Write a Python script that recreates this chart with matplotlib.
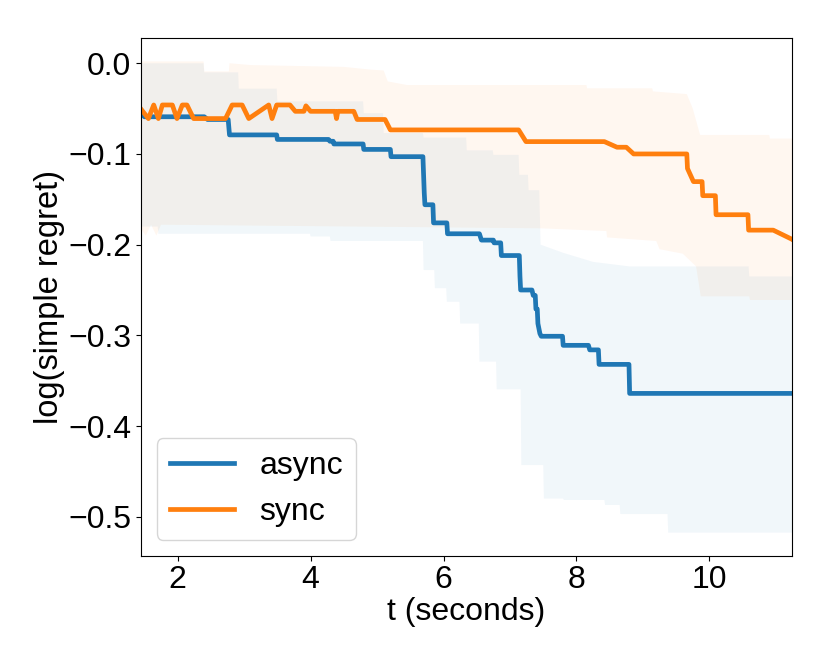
import numpy as np
import matplotlib
matplotlib.use("Agg")
import matplotlib.pyplot as plt

plt.rcParams['font.family'] = ['Liberation Sans', 'DejaVu Sans']

# mean curves (vertices)
async_t = [1.40, 1.50, 2.40, 2.45, 2.76, 2.78, 3.49, 3.50, 4.27, 4.29, 4.34, 4.35,
           4.79, 4.80, 5.20, 5.21, 5.69, 5.71, 5.72, 5.84, 5.85, 6.05, 6.06, 6.54,
           6.57, 6.75, 6.76, 6.86, 6.87, 7.14, 7.15, 7.16, 7.33, 7.35, 7.38, 7.39,
           7.41, 7.42, 7.45, 7.47, 7.79, 7.80, 8.18, 8.20, 8.33, 8.34, 8.79, 8.80, 11.30]
async_y = [-0.052, -0.059, -0.059, -0.062, -0.062, -0.079, -0.079, -0.084, -0.084, -0.086,
           -0.086, -0.089, -0.089, -0.095, -0.095, -0.103, -0.103, -0.143, -0.156, -0.156,
           -0.176, -0.176, -0.188, -0.188, -0.195, -0.195, -0.198, -0.198, -0.212, -0.212,
           -0.235, -0.250, -0.250, -0.256, -0.256, -0.271, -0.271, -0.287, -0.298, -0.301,
           -0.301, -0.311, -0.311, -0.316, -0.316, -0.332, -0.332, -0.364, -0.364]

sync_t = [1.40, 1.56, 1.64, 1.71, 1.77, 1.92, 1.99, 2.07, 2.14, 2.24, 2.72, 2.82,
          2.97, 3.07, 3.37, 3.42, 3.49, 3.69, 3.77, 3.90, 3.93, 4.00, 4.37, 4.39,
          4.41, 4.65, 4.70, 5.12, 5.20, 7.13, 7.24, 8.42, 8.61, 8.75, 8.86, 9.66,
          9.67, 9.76, 9.89, 9.90, 10.09, 10.10, 10.58, 10.59, 10.96, 11.24, 11.30]
sync_y = [-0.046, -0.061, -0.046, -0.061, -0.046, -0.046, -0.061, -0.046, -0.046, -0.061,
          -0.061, -0.046, -0.046, -0.061, -0.046, -0.061, -0.046, -0.046, -0.053, -0.053,
          -0.047, -0.053, -0.053, -0.061, -0.053, -0.053, -0.062, -0.062, -0.0735, -0.0735,
          -0.0864, -0.0864, -0.0926, -0.0926, -0.100, -0.100, -0.116, -0.1305, -0.1305, -0.146,
          -0.146, -0.167, -0.167, -0.184, -0.184, -0.194, -0.197]

# spread bands
async_hi_t = [1.40, 2.39, 2.40, 2.91, 2.92, 3.49, 3.50, 4.79, 4.80, 5.09, 5.10, 5.69,
              5.70, 6.34, 6.35, 6.74, 6.75, 7.13, 7.14, 7.27, 7.28, 7.44, 7.46, 7.80,
              8.25, 8.80, 10.59, 10.60, 11.30]
async_hi = [0.0, 0.0, -0.010, -0.010, -0.028, -0.028, -0.042, -0.042, -0.055, -0.055,
            -0.077, -0.077, -0.082, -0.082, -0.096, -0.096, -0.101, -0.101, -0.123, -0.123,
            -0.140, -0.140, -0.200, -0.209, -0.219, -0.224, -0.224, -0.235, -0.235]
async_lo_t = [1.40, 1.70, 1.71, 3.99, 4.00, 4.29, 4.30, 5.69, 5.70, 5.86, 5.87, 6.04,
              6.05, 6.24, 6.25, 6.53, 6.54, 6.79, 6.80, 7.16, 7.17, 7.50, 7.51, 7.80,
              7.81, 8.42, 8.43, 8.65, 8.66, 9.37, 9.38, 11.30]
async_lo = [-0.180, -0.180, -0.188, -0.188, -0.191, -0.191, -0.196, -0.196, -0.228, -0.228,
            -0.248, -0.248, -0.263, -0.263, -0.287, -0.287, -0.329, -0.329, -0.3595, -0.3595,
            -0.443, -0.443, -0.480, -0.480, -0.4815, -0.4815, -0.487, -0.487, -0.497, -0.497,
            -0.5175, -0.5175]

sync_hi_t = [1.40, 2.39, 2.40, 2.77, 2.78, 3.10, 4.50, 4.90, 5.10, 5.16, 5.45, 8.15,
             8.16, 9.14, 9.15, 9.66, 9.75, 9.86, 10.90, 10.91, 11.30]
sync_hi = [0.002, 0.002, -0.009, -0.009, 0.0, -0.002, -0.004, -0.007, -0.008, -0.020,
           -0.024, -0.024, -0.0276, -0.0276, -0.031, -0.034, -0.050, -0.079, -0.079, -0.083,
           -0.083]
sync_lo_t = [1.40, 1.52, 1.60, 1.68, 1.75, 7.47, 8.45, 8.46, 9.20, 9.25, 9.60, 9.80,
             9.87, 10.60, 10.61, 11.30]
sync_lo = [-0.178, -0.190, -0.178, -0.190, -0.178, -0.182, -0.185, -0.192, -0.196, -0.205,
           -0.210, -0.224, -0.257, -0.257, -0.261, -0.261]

x_ticks = [2, 4, 6, 8, 10]
y_ticks = [0.0, -0.1, -0.2, -0.3, -0.4, -0.5]


def band(ax, t_hi, hi, t_lo, lo, color):
    xs = np.concatenate([t_hi, t_lo[::-1]])
    ys = np.concatenate([hi, lo[::-1]])
    ax.fill(xs, ys, color=color, alpha=0.06, lw=0)


fig = plt.figure(figsize=(8.3, 6.64), dpi=100)
ax = fig.add_axes([0.170, 0.163, 0.784, 0.780])

band(ax, async_hi_t, async_hi, async_lo_t, async_lo, "tab:blue")
band(ax, sync_hi_t, sync_hi, sync_lo_t, sync_lo, "tab:orange")

ax.plot(async_t, async_y, color="tab:blue", lw=3.4, label="async")
ax.plot(sync_t, sync_y, color="tab:orange", lw=3.4, label="sync")

ax.set_xlim(1.45, 11.24)
ax.set_ylim(-0.543, 0.028)
ax.set_xticks(x_ticks)
ax.set_yticks(y_ticks)
ax.tick_params(labelsize=23)
ax.set_xlabel("t (seconds)", fontsize=23, labelpad=1)
ax.set_ylabel("log(simple regret)", fontsize=23.5, labelpad=2)
ax.legend(loc="lower left", fontsize=23)

fig.savefig("out.png", dpi=100)
